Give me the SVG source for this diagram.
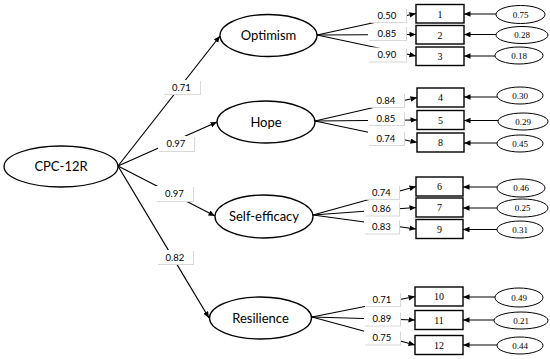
<svg xmlns="http://www.w3.org/2000/svg" width="550" height="359" viewBox="0 0 550 359">
<style>
.lat{fill:#fff;stroke:#000;stroke-width:1.3}
.err{fill:#fff;stroke:#000;stroke-width:1}
.box{fill:#fff;stroke:#000;stroke-width:1.4}
.lt{font-family:Lato,"Liberation Sans",sans-serif;font-size:13px;text-anchor:middle;fill:#000}
.bt{font-family:"Liberation Serif",serif;font-size:10px;text-anchor:middle;fill:#000}
.et{font-family:"Liberation Serif",serif;font-size:9px;text-anchor:middle;fill:#000}
.wt{font-family:Lato,"Liberation Sans",sans-serif;font-size:9.5px;text-anchor:middle;fill:#000}
.lab{fill:#fff}
.sh{fill:#d8d8d8}
.ln{stroke:#000;stroke-width:1.2;fill:none;marker-end:url(#ah)}
.ln2{stroke:#000;stroke-width:1;fill:none;marker-end:url(#ah)}
</style>
<defs>
<marker id="ah" markerUnits="userSpaceOnUse" markerWidth="7" markerHeight="6" refX="6.5" refY="2.75" orient="auto">
<path d="M0,0 L6.5,2.75 L0,5.5 z" fill="#000"/>
</marker>
</defs>
<rect width="550" height="359" fill="#fff"/>
<g id="connectors">
<line class="ln" x1="118" y1="166" x2="220" y2="36"/>
<line class="ln" x1="118" y1="166" x2="217" y2="122"/>
<line class="ln" x1="118" y1="166" x2="215" y2="216"/>
<line class="ln" x1="118" y1="166" x2="209" y2="318"/>
<line class="ln" x1="317" y1="35" x2="416" y2="13.5"/>
<line class="ln" x1="317" y1="35" x2="416" y2="34.5"/>
<line class="ln" x1="317" y1="35" x2="416" y2="56"/>
<line class="ln" x1="315" y1="121" x2="417" y2="97.5"/>
<line class="ln" x1="315" y1="121" x2="417" y2="120"/>
<line class="ln" x1="315" y1="121" x2="417" y2="142.5"/>
<line class="ln" x1="313" y1="215" x2="416" y2="186.5"/>
<line class="ln" x1="313" y1="215" x2="416" y2="207.5"/>
<line class="ln" x1="313" y1="215" x2="416" y2="229"/>
<line class="ln" x1="312" y1="317" x2="415" y2="296.5"/>
<line class="ln" x1="312" y1="317" x2="415" y2="320"/>
<line class="ln" x1="312" y1="317" x2="415" y2="345"/>
<line class="ln2" x1="496" y1="14" x2="464" y2="14"/>
<line class="ln2" x1="496" y1="34.5" x2="464" y2="34.5"/>
<line class="ln2" x1="495" y1="56" x2="464" y2="56"/>
<line class="ln2" x1="497" y1="97" x2="464" y2="97"/>
<line class="ln2" x1="498" y1="120.5" x2="464" y2="120.5"/>
<line class="ln2" x1="497" y1="143" x2="464" y2="143"/>
<line class="ln2" x1="497" y1="187" x2="463" y2="187"/>
<line class="ln2" x1="497" y1="208" x2="463" y2="208"/>
<line class="ln2" x1="497" y1="229.5" x2="463" y2="229.5"/>
<line class="ln2" x1="495" y1="297" x2="463" y2="297"/>
<line class="ln2" x1="494" y1="320" x2="463" y2="320"/>
<line class="ln2" x1="497" y1="345" x2="463" y2="345"/>
</g>
<g id="weights">
<rect class="sh" x="164" y="81" width="37" height="14"/><rect class="lab" x="163" y="80" width="37" height="14"/><text class="wt" x="181.5" y="90.5">0.71</text>
<rect class="sh" x="159" y="137" width="36" height="15"/><rect class="lab" x="158" y="136" width="36" height="15"/><text class="wt" x="176" y="147">0.97</text>
<rect class="sh" x="157" y="187" width="37" height="15"/><rect class="lab" x="156" y="186" width="37" height="15"/><text class="wt" x="174.5" y="197">0.97</text>
<rect class="sh" x="158" y="251" width="36" height="14"/><rect class="lab" x="157" y="250" width="36" height="14"/><text class="wt" x="175" y="260.5">0.82</text>
<rect class="sh" x="369" y="9" width="38" height="14"/><rect class="lab" x="368" y="8" width="38" height="14"/><text class="wt" x="387" y="18.5">0.50</text>
<rect class="sh" x="369" y="27" width="38" height="14"/><rect class="lab" x="368" y="26" width="38" height="14"/><text class="wt" x="387" y="36.5">0.85</text>
<rect class="sh" x="369" y="48.5" width="38" height="14"/><rect class="lab" x="368" y="47.5" width="38" height="14"/><text class="wt" x="387" y="58">0.90</text>
<rect class="sh" x="369" y="94" width="36" height="14"/><rect class="lab" x="368" y="93" width="36" height="14"/><text class="wt" x="386" y="103.5">0.84</text>
<rect class="sh" x="369" y="112" width="36" height="14"/><rect class="lab" x="368" y="111" width="36" height="14"/><text class="wt" x="386" y="121.5">0.85</text>
<rect class="sh" x="369" y="132" width="36" height="14"/><rect class="lab" x="368" y="131" width="36" height="14"/><text class="wt" x="386" y="141.5">0.74</text>
<rect class="sh" x="365" y="186" width="35" height="14"/><rect class="lab" x="364" y="185" width="35" height="14"/><text class="wt" x="381.5" y="195.5">0.74</text>
<rect class="sh" x="365" y="202.5" width="35" height="14"/><rect class="lab" x="364" y="201.5" width="35" height="14"/><text class="wt" x="381.5" y="212">0.86</text>
<rect class="sh" x="365" y="220.5" width="35" height="14"/><rect class="lab" x="364" y="219.5" width="35" height="14"/><text class="wt" x="381.5" y="230">0.83</text>
<rect class="sh" x="365" y="293" width="36" height="14"/><rect class="lab" x="364" y="292" width="36" height="14"/><text class="wt" x="382" y="302.5">0.71</text>
<rect class="sh" x="365" y="312.5" width="36" height="14"/><rect class="lab" x="364" y="311.5" width="36" height="14"/><text class="wt" x="382" y="322">0.89</text>
<rect class="sh" x="365" y="331.5" width="36" height="14"/><rect class="lab" x="364" y="330.5" width="36" height="14"/><text class="wt" x="382" y="341">0.75</text>
</g>
<g id="cpc12r"><ellipse class="lat" cx="61" cy="166.5" rx="57" ry="20.5"/><text class="lt" x="61" y="171">CPC-12R</text></g>
<g id="optimism"><ellipse class="lat" cx="268.5" cy="35.5" rx="48.5" ry="21"/><text class="lt" x="268.5" y="40">Optimism</text></g>
<g id="hope"><ellipse class="lat" cx="266" cy="122" rx="49" ry="21"/><text class="lt" x="266" y="126.5">Hope</text></g>
<g id="selfefficacy"><ellipse class="lat" cx="264" cy="216.5" rx="49" ry="21.5"/><text class="lt" x="264" y="221">Self-efficacy</text></g>
<g id="resilience"><ellipse class="lat" cx="260.5" cy="318" rx="51" ry="21"/><text class="lt" x="260.5" y="322.5">Resilience</text></g>
<g id="item1"><rect class="box" x="416" y="4.5" width="48" height="18.5"/><text class="bt" x="440" y="17.5">1</text></g>
<g id="item2"><rect class="box" x="416" y="25.5" width="48" height="18.5"/><text class="bt" x="440" y="38.5">2</text></g>
<g id="item3"><rect class="box" x="416" y="47" width="48" height="18.5"/><text class="bt" x="440" y="60">3</text></g>
<g id="item4"><rect class="box" x="417" y="88" width="47" height="19"/><text class="bt" x="440.5" y="101">4</text></g>
<g id="item5"><rect class="box" x="417" y="110.5" width="47" height="19"/><text class="bt" x="440.5" y="123.5">5</text></g>
<g id="item8"><rect class="box" x="417" y="133" width="47" height="19"/><text class="bt" x="440.5" y="146">8</text></g>
<g id="item6"><rect class="box" x="416" y="177" width="47" height="19"/><text class="bt" x="439.5" y="190">6</text></g>
<g id="item7"><rect class="box" x="416" y="198" width="47" height="19"/><text class="bt" x="439.5" y="211">7</text></g>
<g id="item9"><rect class="box" x="416" y="219.5" width="47" height="19"/><text class="bt" x="439.5" y="232.5">9</text></g>
<g id="item10"><rect class="box" x="415" y="287" width="48" height="19"/><text class="bt" x="439" y="300">10</text></g>
<g id="item11"><rect class="box" x="415" y="310.5" width="48" height="19"/><text class="bt" x="439" y="323.5">11</text></g>
<g id="item12"><rect class="box" x="415" y="335.5" width="48" height="19"/><text class="bt" x="439" y="348.5">12</text></g>
<g id="e1"><ellipse class="err" cx="520.5" cy="14.5" rx="24.5" ry="9"/><text class="et" x="520.5" y="17.5">0.75</text></g>
<g id="e2"><ellipse class="err" cx="522" cy="35" rx="26" ry="8.5"/><text class="et" x="522" y="38">0.28</text></g>
<g id="e3"><ellipse class="err" cx="519" cy="55.5" rx="24" ry="8.5"/><text class="et" x="519" y="58.5">0.18</text></g>
<g id="e4"><ellipse class="err" cx="520" cy="95.5" rx="23" ry="8.5"/><text class="et" x="520" y="98.5">0.30</text></g>
<g id="e5"><ellipse class="err" cx="523" cy="121.5" rx="25" ry="8.5"/><text class="et" x="523" y="124.5">0.29</text></g>
<g id="e8"><ellipse class="err" cx="520" cy="143.5" rx="23" ry="8.5"/><text class="et" x="520" y="146.5">0.45</text></g>
<g id="e6"><ellipse class="err" cx="521" cy="188" rx="24" ry="9"/><text class="et" x="521" y="191">0.46</text></g>
<g id="e7"><ellipse class="err" cx="522.5" cy="208" rx="25.5" ry="9"/><text class="et" x="522.5" y="211">0.25</text></g>
<g id="e9"><ellipse class="err" cx="520" cy="229.5" rx="23" ry="8.5"/><text class="et" x="520" y="232.5">0.31</text></g>
<g id="e10"><ellipse class="err" cx="519" cy="297.5" rx="24" ry="9.5"/><text class="et" x="519" y="300.5">0.49</text></g>
<g id="e11"><ellipse class="err" cx="521" cy="320.5" rx="27" ry="8.5"/><text class="et" x="521" y="323.5">0.21</text></g>
<g id="e12"><ellipse class="err" cx="520" cy="345.5" rx="23" ry="8.5"/><text class="et" x="520" y="348.5">0.44</text></g>
</svg>
